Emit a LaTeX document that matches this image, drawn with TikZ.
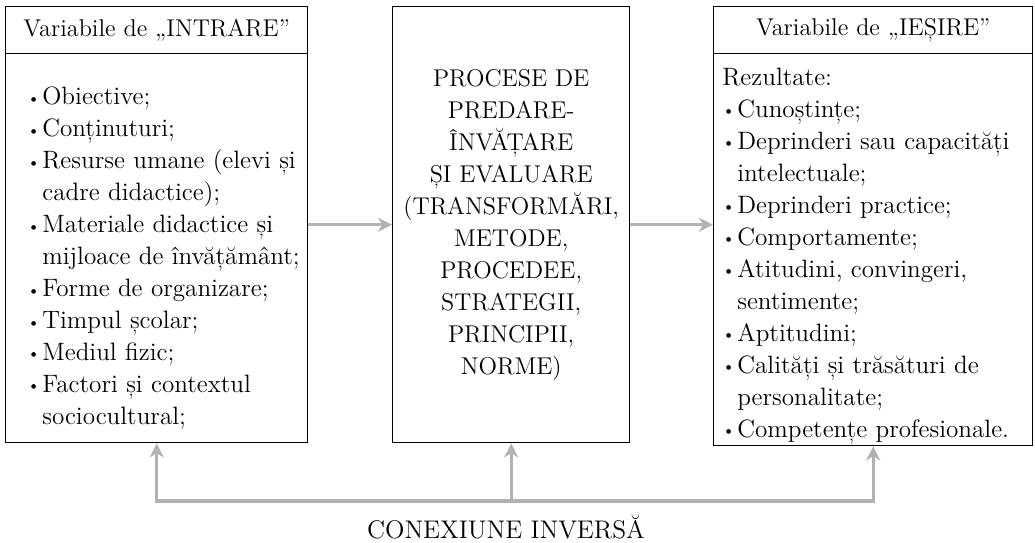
\documentclass[tikz,border=0pt]{standalone}
\usetikzlibrary{arrows.meta,positioning}

\newcommand{\bul}[1]{\par\noindent\hangindent=0.30cm\hangafter=1\makebox[0.30cm][l]{\small\raisebox{0.25ex}{\textbullet}}#1}

\begin{document}
\begin{tikzpicture}[
  every node/.style={font=\fontsize{13.8}{18.2}\selectfont, inner sep=0pt},
  box/.style={draw, line width=0.8pt, anchor=north west},
  list/.style={anchor=north west, text width=#1, align=left, font=\fontsize{14.3}{18.2}\selectfont},
  flow/.style={draw=gray!60, line width=1.8pt, -{Stealth[length=8pt,width=8pt,inset=2.5pt]}}
]
  \useasboundingbox (0,0) rectangle (20.7,-10.86);
  % the three boxes
  \node[box, minimum width=6.04cm, minimum height=0.94cm] (inTitle) at (0.10,-0.12) {Variabile de „INTRARE”};
  \node[box, minimum width=6.04cm, minimum height=7.78cm] (inBody) at (0.10,-1.06) {};
  \node[box, minimum width=4.74cm, minimum height=8.72cm, align=center] (midBox) at (7.84,-0.12)
    {PROCESE DE\\PREDARE-\\ÎNVĂȚARE\\ȘI EVALUARE\\(TRANSFORMĂRI,\\METODE,\\PROCEDEE,\\STRATEGII,\\PRINCIPII,\\NORME)};
  \node[box, minimum width=6.38cm, minimum height=0.94cm] (outTitle) at (14.26,-0.12) {Variabile de „IEȘIRE”};
  \node[box, minimum width=6.38cm, minimum height=7.84cm] (outBody) at (14.26,-1.06) {};
  % the two lists
  \node[list=5.8cm] (inList) at (0.54,-1.45) {%
    \bul{Obiective;}
    \bul{Conținuturi;}
    \bul{Resurse umane (elevi și\newline cadre didactice);}
    \bul{Materiale didactice și\newline mijloace de învățământ;}
    \bul{Forme de organizare;}
    \bul{Timpul școlar;}
    \bul{Mediul fizic;}
    \bul{Factori și contextul\newline sociocultural;}\par};
  \node[list=6.2cm] (outList) at (14.44,-1.35) {%
    Rezultate:
    \bul{Cunoștințe;}
    \bul{Deprinderi sau capacități\newline intelectuale;}
    \bul{Deprinderi practice;}
    \bul{Comportamente;}
    \bul{Atitudini, convingeri,\newline sentimente;}
    \bul{Aptitudini;}
    \bul{Calități și trăsături de\newline personalitate;}
    \bul{Competențe profesionale.}\par};
  % flow between the boxes
  \draw[flow] (inBody.east |- midBox.west) -- (midBox.west);
  \draw[flow] (midBox.east) -- (outBody.west |- midBox.east);
  % feedback line
  \coordinate (fbMid) at (midBox.south |- 0,-10.02);
  \draw[flow] (fbMid) -| (inBody.south);
  \draw[flow] (fbMid) -| (outBody.south);
  \draw[flow] (fbMid) -- (midBox.south);
  \node[anchor=base, font=\fontsize{14.5}{18}\selectfont] (fbLabel) at (10.12,-10.76) {CONEXIUNE INVERSĂ};
\end{tikzpicture}
\end{document}
